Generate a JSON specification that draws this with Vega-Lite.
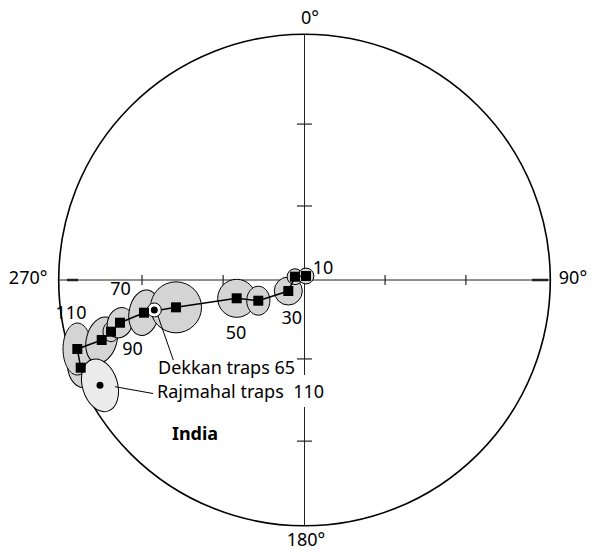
{
  "$schema": "https://vega.github.io/schema/vega-lite/v6.json",
  "width": 591,
  "height": 556,
  "autosize": {"type": "none"},
  "padding": 0,
  "background": "white",
  "config": {"view": {"stroke": null}, "font": "Noto Sans"},
  "datasets": {
    "poles": [
      {"age": 10, "x": 0.55, "y": 1.46, "a95": 2.9, "ratio": "1", "tilt": 0},
      {"age": 20, "x": -3.48, "y": 1.21, "a95": 2.9, "ratio": "1", "tilt": 0},
      {"age": 30, "x": -5.93, "y": -4.03, "a95": 5.13, "ratio": "1", "tilt": 0},
      {"age": 40, "x": -16.92, "y": -7.58, "a95": 5.31, "ratio": "0.8", "tilt": 0},
      {"age": 50, "x": -24.83, "y": -6.7, "a95": 6.96, "ratio": "1", "tilt": 0},
      {"age": 60, "x": -47.05, "y": -10.0, "a95": 9.34, "ratio": "1", "tilt": 0},
      {"age": 70, "x": -58.77, "y": -11.97, "a95": 8.42, "ratio": "0.65", "tilt": 10},
      {"age": 80, "x": -67.56, "y": -15.64, "a95": 5.68, "ratio": "0.8", "tilt": 20},
      {"age": 90, "x": -70.85, "y": -18.93, "a95": 3.66, "ratio": "0.8", "tilt": 0},
      {"age": 100, "x": -74.26, "y": -21.97, "a95": 8.6, "ratio": "0.65", "tilt": 15},
      {"age": 110, "x": -83.19, "y": -25.27, "a95": 9.52, "ratio": "0.55", "tilt": 0},
      {"age": 120, "x": -81.95, "y": -32.11, "a95": 7.32, "ratio": "0.65", "tilt": -10}
    ],
    "refs": [
      {"name": "Rajmahal", "age": 110, "x": -74.88, "y": -38.56, "a95": 9.89, "ratio": "0.65", "tilt": -17},
      {"name": "Dekkan", "age": 65, "x": -55.0, "y": -10.98, "a95": 2.56, "ratio": "1", "tilt": 0}
    ],
    "origin": [{"x": 0, "y": 0}],
    "axes": [
      {"x": -90, "y": 0, "x2": 90, "y2": 0},
      {"x": 0, "y": 90, "x2": 0, "y2": -34.8},
      {"x": 0, "y": -46.5, "x2": 0, "y2": -90}
    ],
    "thick": [
      {"x": -87, "y": 0, "x2": -82.9, "y2": 0},
      {"x": 83.3, "y": 0, "x2": 89.2, "y2": 0}
    ],
    "vticks": [
      {"x": 0, "y": 57.1}, {"x": 0, "y": 27.1}, {"x": 0, "y": -28.9}, {"x": 0, "y": -59.0}
    ],
    "hticks": [
      {"x": -59.5, "y": 0}, {"x": -29.8, "y": 0}, {"x": 29.5, "y": 0}, {"x": 59.1, "y": 0}
    ],
    "leaders": [
      {"x": -53.66, "y": -13.18, "x2": -48.04, "y2": -29.29},
      {"x": -69.39, "y": -39.07, "x2": -55.47, "y2": -41.56}
    ],
    "deg": [
      {"t": "0°", "x": 2.0, "y": 95.6},
      {"t": "90°", "x": 98.3, "y": 0.37},
      {"t": "180°", "x": 0.55, "y": -95.6},
      {"t": "270°", "x": -101.2, "y": 0.37}
    ],
    "ages": [
      {"t": "10", "x": 6.77, "y": 4.03},
      {"t": "30", "x": -4.69, "y": -14.46},
      {"t": "50", "x": -25.08, "y": -19.59},
      {"t": "70", "x": -67.37, "y": -3.66},
      {"t": "90", "x": -62.98, "y": -25.45},
      {"t": "110", "x": -85.5, "y": -12.63}
    ],
    "notes": [
      {"t": "Dekkan traps 65", "x": -53.64, "y": -32.59},
      {"t": "Rajmahal traps\u00a0\u00a0110", "x": -54.01, "y": -41.38}
    ],
    "region": [{"t": "India", "x": -40.09, "y": -56.76}]
  },
  "encoding": {
    "x": {"field": "x", "type": "quantitative", "scale": {"domain": [-111.5, 104.91], "nice": false, "zero": false}, "axis": null},
    "y": {"field": "y", "type": "quantitative", "scale": {"domain": [-101.06, 102.53], "nice": false, "zero": false}, "axis": null}
  },
  "layer": [
    {
      "data": {"name": "origin"},
      "mark": {"type": "point", "shape": "circle", "filled": false, "stroke": "black", "strokeWidth": 1.6, "opacity": 1, "size": 241670}
    },
    {
      "data": {"name": "axes"},
      "mark": {"type": "rule", "stroke": "#222222", "strokeWidth": 1},
      "encoding": {"x2": {"field": "x2"}, "y2": {"field": "y2"}}
    },
    {
      "data": {"name": "thick"},
      "mark": {"type": "rule", "stroke": "#222222", "strokeWidth": 2.5},
      "encoding": {"x2": {"field": "x2"}, "y2": {"field": "y2"}}
    },
    {
      "data": {"name": "vticks"},
      "mark": {"type": "tick", "orient": "horizontal", "color": "#222222", "thickness": 1.2, "size": 15, "opacity": 1}
    },
    {
      "data": {"name": "hticks"},
      "mark": {"type": "tick", "orient": "vertical", "color": "#222222", "thickness": 1.2, "size": 10, "opacity": 1}
    },
    {
      "data": {"name": "poles"},
      "mark": {"type": "point", "filled": true, "fill": "#d4d4d4", "stroke": "black", "strokeWidth": 1, "opacity": 1, "fillOpacity": 1, "strokeOpacity": 1},
      "encoding": {
        "size": {"field": "a95", "type": "quantitative", "scale": {"type": "pow", "exponent": 2, "domain": [0, 10], "range": [0, 2983.4]}, "legend": null},
        "shape": {"field": "ratio", "type": "nominal", "scale": {"domain": ["1", "0.8", "0.65", "0.55"], "range": ["circle", "M0,-1A0.8,1,0,0,1,0,1A0.8,1,0,0,1,0,-1Z", "M0,-1A0.65,1,0,0,1,0,1A0.65,1,0,0,1,0,-1Z", "M0,-1A0.55,1,0,0,1,0,1A0.55,1,0,0,1,0,-1Z"]}, "legend": null},
        "angle": {"field": "tilt", "type": "quantitative", "scale": {"domain": [-180, 180], "range": [-180, 180]}, "legend": null},
        "order": {"field": "age", "sort": "descending"}
      }
    },
    {
      "data": {"name": "poles"},
      "mark": {"type": "line", "color": "black", "strokeWidth": 1.5},
      "encoding": {"order": {"field": "age", "type": "quantitative"}}
    },
    {
      "data": {"name": "refs"},
      "mark": {"type": "point", "filled": true, "stroke": "black", "strokeWidth": 1, "opacity": 1, "fillOpacity": 1, "strokeOpacity": 1},
      "encoding": {
        "fill": {"field": "name", "type": "nominal", "scale": {"domain": ["Rajmahal", "Dekkan"], "range": ["#ececec", "#ffffff"]}, "legend": null},
        "size": {"field": "a95", "type": "quantitative", "scale": {"type": "pow", "exponent": 2, "domain": [0, 10], "range": [0, 2983.4]}, "legend": null},
        "shape": {"field": "ratio", "type": "nominal", "scale": {"domain": ["1", "0.8", "0.65", "0.55"], "range": ["circle", "M0,-1A0.8,1,0,0,1,0,1A0.8,1,0,0,1,0,-1Z", "M0,-1A0.65,1,0,0,1,0,1A0.65,1,0,0,1,0,-1Z", "M0,-1A0.55,1,0,0,1,0,1A0.55,1,0,0,1,0,-1Z"]}, "legend": null},
        "angle": {"field": "tilt", "type": "quantitative", "scale": {"domain": [-180, 180], "range": [-180, 180]}, "legend": null}
      }
    },
    {
      "data": {"name": "poles"},
      "mark": {"type": "point", "shape": "square", "filled": true, "color": "black", "opacity": 1, "size": 100}
    },
    {
      "data": {"name": "refs"},
      "mark": {"type": "point", "shape": "circle", "filled": true, "color": "black", "opacity": 1, "size": 49}
    },
    {
      "data": {"name": "leaders"},
      "mark": {"type": "rule", "stroke": "black", "strokeWidth": 1},
      "encoding": {"x2": {"field": "x2"}, "y2": {"field": "y2"}}
    },
    {
      "data": {"name": "deg"},
      "mark": {"type": "text", "fontSize": 18, "align": "center", "baseline": "middle", "color": "black"},
      "encoding": {"text": {"field": "t"}}
    },
    {
      "data": {"name": "ages"},
      "mark": {"type": "text", "fontSize": 18, "align": "center", "baseline": "middle", "color": "black"},
      "encoding": {"text": {"field": "t"}}
    },
    {
      "data": {"name": "notes"},
      "mark": {"type": "text", "fontSize": 18, "align": "left", "baseline": "middle", "color": "black"},
      "encoding": {"text": {"field": "t"}}
    },
    {
      "data": {"name": "region"},
      "mark": {"type": "text", "fontSize": 18, "fontWeight": "bold", "align": "center", "baseline": "middle", "color": "black"},
      "encoding": {"text": {"field": "t"}}
    }
  ]
}
